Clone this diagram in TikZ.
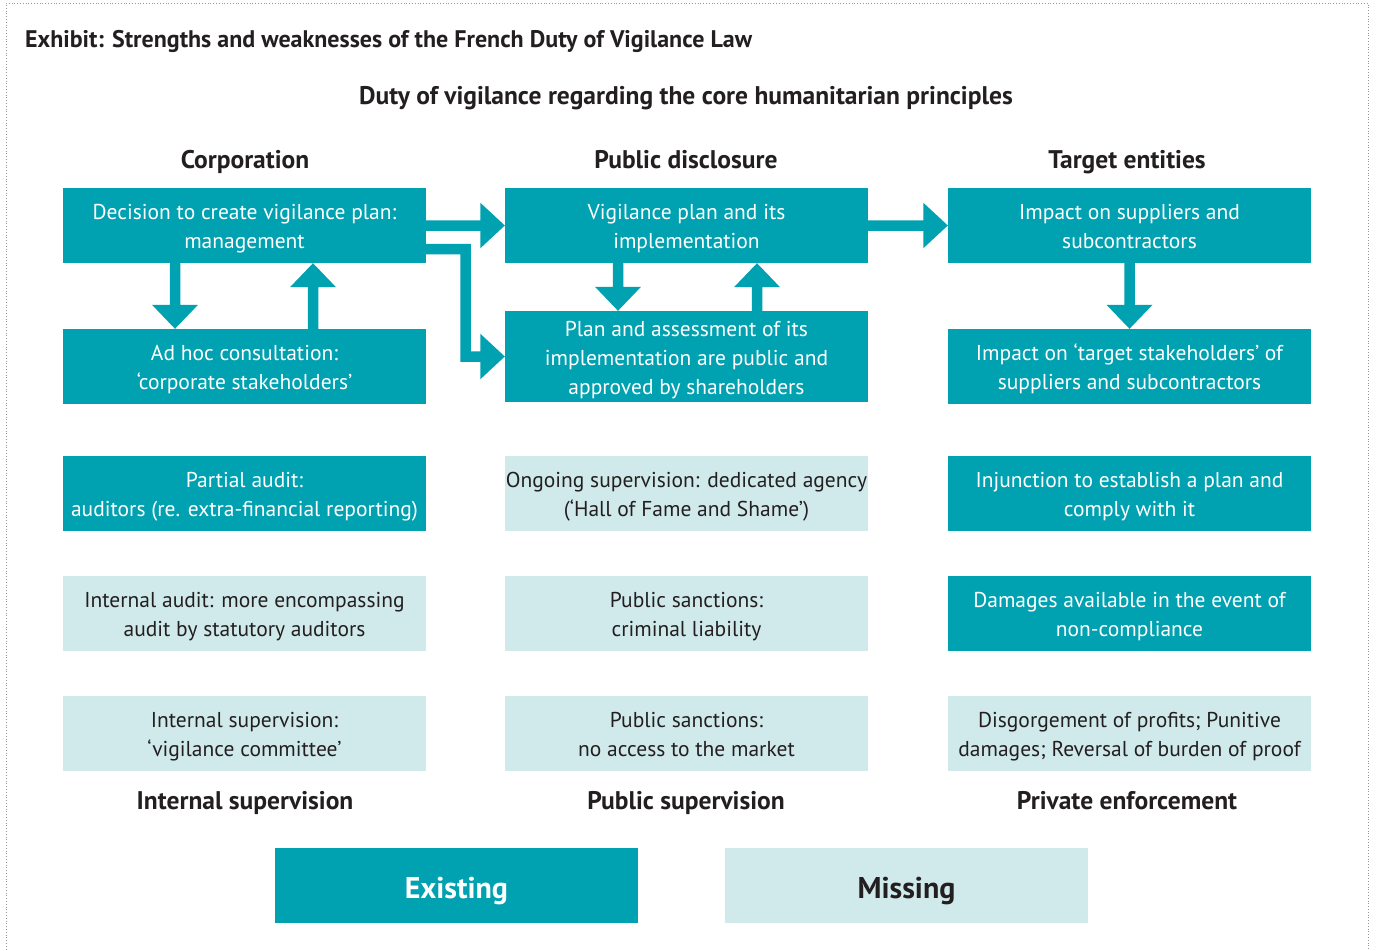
\documentclass[tikz,border=0pt]{standalone}
\usepackage{fontspec}
\setmainfont{PT Sans}
\usetikzlibrary{calc}
\definecolor{tealdark}{RGB}{0,161,176}
\definecolor{teallight}{RGB}{208,234,235}
\definecolor{inkdark}{RGB}{35,31,32}
\definecolor{framegray}{RGB}{150,150,150}

% fixed height for the first line of every box text
\newcommand{\fl}{\rule{0pt}{22pt}}

% vertical block arrow from #1 to #2 (same x)
\newcommand{\blockv}[2]{\fill[tealdark] let \p1=(#1), \p2=(#2), \n1={sign(\y2-\y1)} in
  ({\x1-5.25pt},\y1) -- ({\x1-5.25pt},{\y2-(\n1)*24pt}) -- ({\x1-23pt},{\y2-(\n1)*24pt})
  -- (\x1,\y2) -- ({\x1+23pt},{\y2-(\n1)*24pt}) -- ({\x1+5.25pt},{\y2-(\n1)*24pt})
  -- ({\x1+5.25pt},\y1) -- cycle;}
% horizontal block arrow pointing right, from #1 to #2 (same y)
\newcommand{\blockh}[2]{\fill[tealdark] let \p1=(#1), \p2=(#2) in
  (\x1,{\y1+5.25pt}) -- ({\x2-24.5pt},{\y1+5.25pt}) -- ({\x2-24.5pt},{\y1+22.75pt})
  -- (\x2,\y1) -- ({\x2-24.5pt},{\y1-22.75pt}) -- ({\x2-24.5pt},{\y1-5.25pt})
  -- (\x1,{\y1-5.25pt}) -- cycle;}

\begin{document}
\begin{tikzpicture}[x=1pt,y=-1pt,
  box/.style={minimum width=363pt,minimum height=75pt,inner sep=0pt,align=center,
    text depth=5pt,font=\fontsize{21.5}{29}\selectfont},
  existing/.style={box,fill=tealdark,text=white},
  missing/.style={box,fill=teallight,text=inkdark},
  heading/.style={font=\bfseries\fontsize{25.5}{30}\selectfont,text=inkdark,inner sep=0pt,anchor=base},
  legendbox/.style={minimum width=363pt,minimum height=75pt,inner sep=0pt,
    text height=25pt,text depth=0pt,font=\bfseries\fontsize{30}{36}\selectfont}]

\useasboundingbox (0,0) rectangle (1383,950);
\fill[white] (0,0) rectangle (1383,950);
\draw[framegray, dotted, line width=0.8pt] (6,955) -- (6,3) -- (1368,3) -- (1368,955);

% titles
\node[heading, font=\bfseries\fontsize{24}{28}\selectfont, anchor=base west] (title) at (25,48) {Exhibit: Strengths and weaknesses of the French Duty of Vigilance Law};
\node[heading] (subtitle) at (686,104) {Duty of vigilance regarding the core humanitarian principles};

% column headings
\node[heading] (hc1) at (245,168) {Corporation};
\node[heading] (hc2) at (686,168) {Public disclosure};
\node[heading] (hc3) at (1127,168) {Target entities};

% row 1
\node[existing] (n11) at (244.5,225.5) {\fl Decision to create vigilance plan:\\management};
\node[existing] (n12) at (686.5,225.5) {\fl Vigilance plan and its\\implementation};
\node[existing] (n13) at (1129.5,225.5) {\fl Impact on suppliers and\\subcontractors};

% row 2
\node[existing] (n21) at (244.5,366.5) {\fl Ad hoc consultation:\\‘corporate stakeholders’};
\node[existing, minimum height=91pt] (n22) at (686.5,356.5) {\fl Plan and assessment of its\\implementation are public and\\approved by shareholders};
\node[existing] (n23) at (1129.5,366.5) {\fl Impact on ‘target stakeholders’ of\\suppliers and subcontractors};

% row 3
\node[existing] (n31) at (244.5,493.5) {\fl Partial audit:\\auditors (re. extra-financial reporting)};
\node[missing] (n32) at (686.5,493.5) {\fl Ongoing supervision: dedicated agency\\(‘Hall of Fame and Shame’)};
\node[existing] (n33) at (1129.5,493.5) {\fl Injunction to establish a plan and\\comply with it};

% row 4
\node[missing] (n41) at (244.5,613.5) {\fl Internal audit: more encompassing\\audit by statutory auditors};
\node[missing] (n42) at (686.5,613.5) {\fl Public sanctions:\\criminal liability};
\node[existing] (n43) at (1129.5,613.5) {\fl Damages available in the event of\\non-compliance};

% row 5
\node[missing] (n51) at (244.5,733.5) {\fl Internal supervision:\\‘vigilance committee’};
\node[missing] (n52) at (686.5,733.5) {\fl Public sanctions:\\no access to the market};
\node[missing] (n53) at (1129.5,733.5) {\fl Disgorgement of profits; Punitive\\damages; Reversal of burden of proof};

% bottom headings
\node[heading] (bc1) at (245,809) {Internal supervision};
\node[heading] (bc2) at (686,809) {Public supervision};
\node[heading] (bc3) at (1127,809) {Private enforcement};

% legend
\node[legendbox, fill=tealdark, text=white] (legex) at (456.5,885.5) {Existing};
\node[legendbox, fill=teallight, text=inkdark] (legmi) at (906.5,885.5) {Missing};

% block arrows
\blockv{$(n11.south)+(-69.5,0)$}{$(n21.north)+(-69.5,0)$}
\blockv{$(n21.north)+(68.5,0)$}{$(n11.south)+(68.5,0)$}
\blockv{$(n12.south)+(-68.5,0)$}{$(n22.north)+(-68.5,0)$}
\blockv{$(n22.north)+(70.5,0)$}{$(n12.south)+(70.5,0)$}
\blockv{n13.south}{n23.north}
\blockh{n11.east}{n12.west}
\blockh{n12.east}{n13.west}

% elbow arrow from the decision box down to the published plan
\fill[tealdark] let \p1=($(n11.east)+(0,23.5)$), \p2=(n22.west) in
  (\x1,{\y1+5.25pt}) -- ({\x1+39.5pt+5.25pt},{\y1+5.25pt}) -- ({\x1+39.5pt+5.25pt},{\y2+5.25pt})
  -- ({\x2-24.5pt},{\y2+5.25pt}) -- ({\x2-24.5pt},{\y2+22.75pt}) -- (\x2,\y2)
  -- ({\x2-24.5pt},{\y2-22.75pt}) -- ({\x2-24.5pt},{\y2-5.25pt})
  -- ({\x1+39.5pt-5.25pt},{\y2-5.25pt}) -- ({\x1+39.5pt-5.25pt},{\y1-5.25pt})
  -- (\x1,{\y1-5.25pt}) -- cycle;

\end{tikzpicture}
\end{document}
